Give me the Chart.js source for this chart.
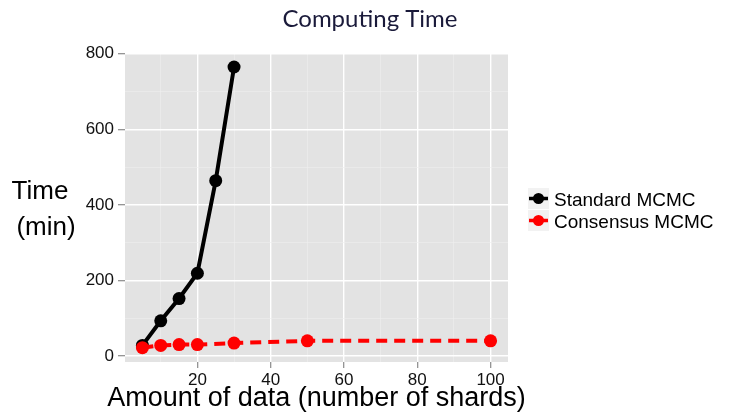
<!DOCTYPE html>
<html>
<head>
<meta charset="utf-8">
<script src="https://cdn.jsdelivr.net/npm/chart.js@4"></script>
<style>
  body { margin: 0; background: #fff; }
  canvas { display: block; }
</style>
</head>
<body>
<canvas id="myChart" width="735" height="412"></canvas>
<script>
const standardShards = [5, 10, 15, 20, 25, 30];
const standardTime = [28, 93, 152, 219, 464, 765];
const consensusShards = [5, 10, 15, 20, 30, 50, 100];
const consensusTime = [22, 28, 30, 30, 34, 40, 40];

const xMajor = [20, 40, 60, 80, 100];
const xMinor = [10, 30, 50, 70, 90];
const yMajor = [0, 200, 400, 600, 800];
const yMinor = [100, 300, 500, 700];

const seriesNames = ['Standard MCMC', 'Consensus MCMC'];

const FONT = '"Liberation Sans", Arial, sans-serif';

const toPoints = (xs, ys) => xs.map((x, i) => ({ x: x, y: ys[i] }));
const tickList = (major, minor) => major.concat(minor).sort((a, b) => a - b).map(v => ({ value: v }));

const panelBg = {
  id: 'panelBg',
  beforeDraw(chart) {
    const { ctx, chartArea: a } = chart;
    ctx.save();
    ctx.fillStyle = '#e3e3e3';
    ctx.fillRect(a.left, a.top, a.right - a.left, a.bottom - a.top);
    ctx.restore();
  }
};

const extraText = {
  id: 'extraText',
  afterDraw(chart) {
    const { ctx, chartArea: a } = chart;
    ctx.save();
    ctx.textBaseline = 'alphabetic';
    ctx.textAlign = 'center';

    // title (centred on the whole figure, not the panel)
    ctx.fillStyle = '#1a1a3a';
    ctx.font = '24px Lato, "Open Sans", sans-serif';
    ctx.fillText('Computing Time', 370, 27);

    // y axis title, horizontal, two lines
    ctx.fillStyle = '#000';
    ctx.font = '26px ' + FONT;
    ctx.fillText('Time', 40, 199);
    ctx.fillText('(min)', 46, 235);

    // x axis title
    ctx.font = '27px ' + FONT;
    ctx.fillText('Amount of data (number of shards)', (a.left + a.right) / 2, 406);

    // legend
    const lx = 528, rows = [188, 210];
    const colors = ['#000000', '#ff0000'];
    rows.forEach((top, i) => {
      ctx.fillStyle = '#f2f2f2';
      ctx.fillRect(lx, top, 21, 21);
      const cy = top + 10.5;
      ctx.strokeStyle = colors[i];
      ctx.lineWidth = 3.5;
      ctx.setLineDash(i === 1 ? [8, 4] : []);
      ctx.beginPath();
      ctx.moveTo(lx + 1, cy);
      ctx.lineTo(lx + 20, cy);
      ctx.stroke();
      ctx.setLineDash([]);
      ctx.fillStyle = colors[i];
      ctx.beginPath();
      ctx.arc(lx + 10.5, cy, 5.5, 0, Math.PI * 2);
      ctx.fill();
      ctx.fillStyle = '#000';
      ctx.font = '19px ' + FONT;
      ctx.textAlign = 'left';
      ctx.fillText(seriesNames[i], 554, top + 18);
    });
    ctx.restore();
  }
};

const data = {
  datasets: [{
    label: seriesNames[0],
    data: toPoints(standardShards, standardTime),
    borderColor: '#000000',
    backgroundColor: '#000000',
    borderWidth: 4,
    pointRadius: 6.5,
    pointBorderWidth: 0,
    order: 1
  }, {
    label: seriesNames[1],
    data: toPoints(consensusShards, consensusTime),
    borderColor: '#ff0000',
    backgroundColor: '#ff0000',
    borderWidth: 4,
    borderDash: [11, 7],
    pointRadius: 6.5,
    pointBorderWidth: 0,
    order: 0
  }]
};

const gridColor = (major) => (ctx) => major.includes(ctx.tick.value) ? '#ffffff' : '#eeeeee';
const gridWidth = (major) => (ctx) => major.includes(ctx.tick.value) ? 1.4 : 0.6;
const tickColor = (major) => (ctx) => major.includes(ctx.tick.value) ? '#8a8a8a' : 'rgba(0,0,0,0)';

const config = {
  type: 'line',
  data,
  options: {
    responsive: false,
    animation: false,
    layout: { padding: { left: 0, right: 227, top: 53, bottom: 0 } },
    plugins: {
      legend: { display: false },
      tooltip: { enabled: false },
      title: { display: false }
    },
    scales: {
      x: {
        type: 'linear',
        min: 0.25,
        max: 104.75,
        afterBuildTicks: (scale) => { scale.ticks = tickList(xMajor, xMinor); },
        afterFit: (scale) => { scale.height = 50; },
        border: { display: false },
        grid: { color: gridColor(xMajor), lineWidth: gridWidth(xMajor), tickColor: tickColor(xMajor), tickLength: 6, tickWidth: 1.2 },
        ticks: {
          autoSkip: false,
          maxRotation: 0,
          padding: 2,
          color: '#111',
          font: { family: FONT, size: 17 },
          callback: (v) => xMajor.includes(v) ? String(v) : ''
        }
      },
      y: {
        min: -16,
        max: 802,
        afterBuildTicks: (scale) => { scale.ticks = tickList(yMajor, yMinor); },
        afterFit: (scale) => { scale.width = 125; },
        border: { display: false },
        grid: { color: gridColor(yMajor), lineWidth: gridWidth(yMajor), tickColor: tickColor(yMajor), tickLength: 7, tickWidth: 1.2 },
        ticks: {
          autoSkip: false,
          padding: 4,
          color: '#111',
          font: { family: FONT, size: 17 },
          callback: (v) => yMajor.includes(v) ? String(v) : ''
        }
      }
    }
  },
  plugins: [panelBg, extraText]
};

const myChart = new Chart(document.getElementById('myChart'), config);
</script>
</body>
</html>
